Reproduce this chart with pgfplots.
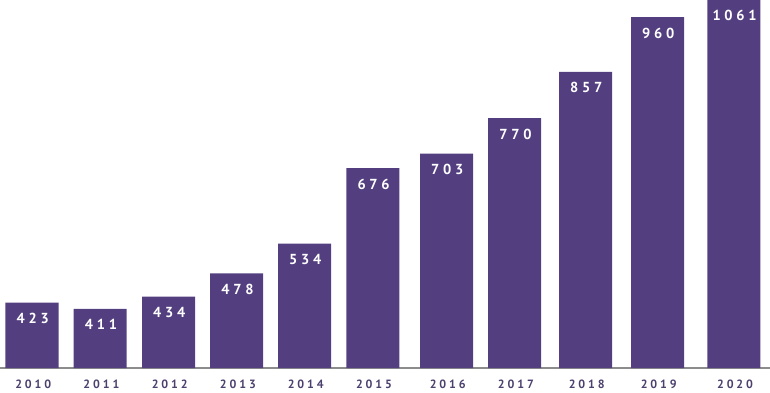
\documentclass[border=0pt]{standalone}
\usepackage{pgfplots}
\pgfplotsset{compat=1.18}
\usepackage{pgfplotstable}
\usepackage{fontspec}
\setmainfont{PT Sans}
\newfontfamily\valfont[LetterSpace=26, UprightFont={PT Sans Bold}]{PT Sans}
\newfontfamily\yearfont[LetterSpace=24, UprightFont={PT Sans Bold}]{PT Sans}
\definecolor{barc}{RGB}{83,63,128}
\definecolor{yearc}{RGB}{76,64,110}
\definecolor{basec}{RGB}{140,140,140}
\pgfplotstableread{
x value ly
32 423 423
100.2 411 411
168.5 434 434
236.7 478 478
304.5 534 534
372.8 676 676
446.5 703 703
514.7 770 770
585.5 857 857
657.5 960 960
733.8 1061 992
}\data
\begin{document}
\begin{tikzpicture}
\begin{axis}[name=ax,
  scale only axis, width=770bp, height=368bp,
  xmin=0, xmax=770, ymin=300, ymax=992,
  axis y line=none, axis x line*=bottom,
  x axis line style={draw=basec, line width=1.2bp},
  xtick={32,100.2,168.5,236.7,304.5,372.8,446.5,514.7,585.5,657.5,733.8},
  xticklabels={2010,2011,2012,2013,2014,2015,2016,2017,2018,2019,2020},
  major tick length=0pt,
  xticklabel style={anchor=base, yshift=-20.5bp, xshift=1.2bp, font=\yearfont\fontsize{12bp}{14bp}\selectfont, text=yearc},
  clip=true,
]
\addplot[ybar, bar width=53bp, fill=barc, draw=none] table[x=x, y=value] {\data};
\addplot[draw=none, mark=none, nodes near coords, point meta=explicit symbolic,
  nodes near coords style={anchor=base, yshift=-21bp, xshift=0.8bp, text=white, font=\valfont\fontsize{14.5bp}{16bp}\selectfont}]
  table[x=x, y=ly, meta=value] {\data};
\end{axis}
\pgfresetboundingbox
\path[use as bounding box] ([yshift=-24bp]ax.south west) rectangle (ax.north east);
\end{tikzpicture}
\end{document}
